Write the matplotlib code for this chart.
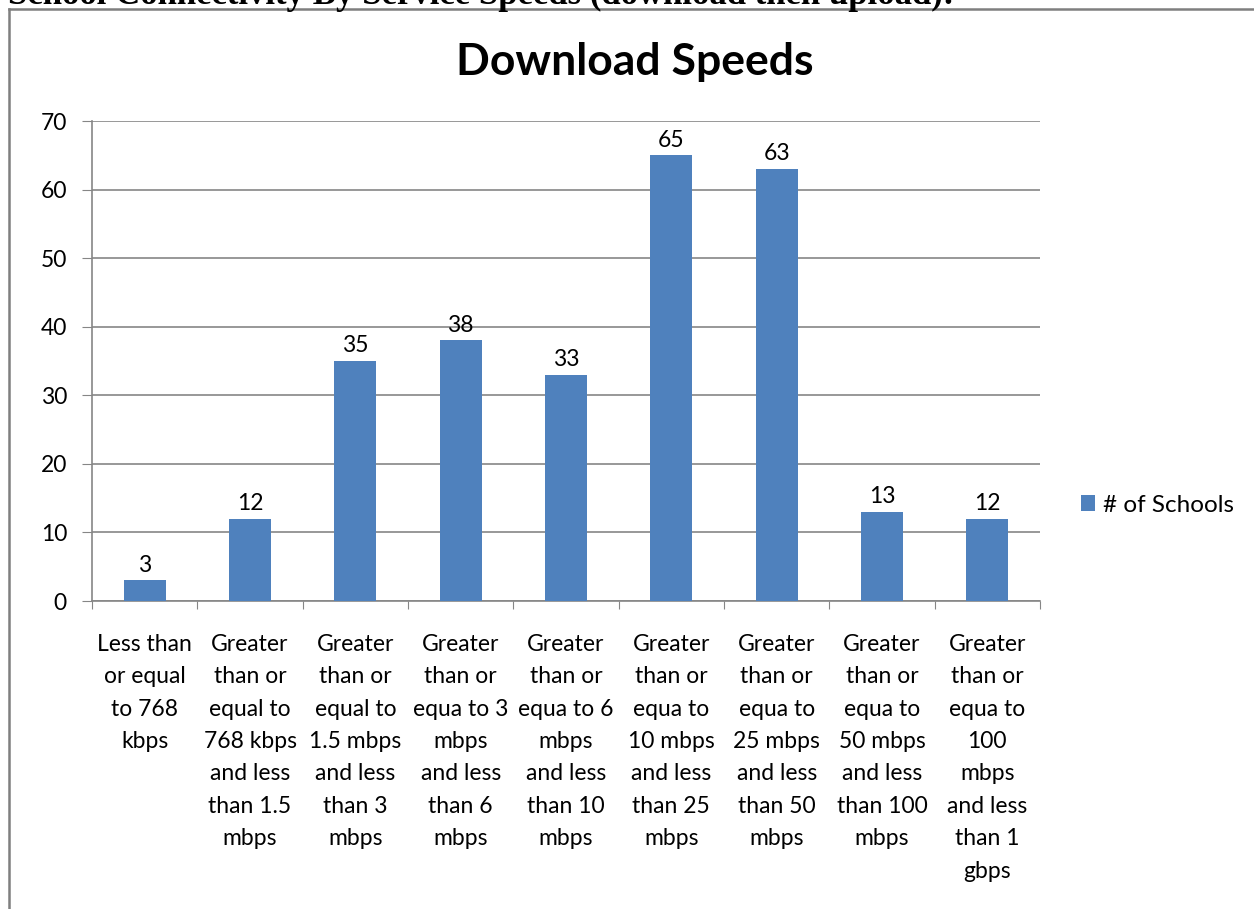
import matplotlib.pyplot as plt
from matplotlib.lines import Line2D

categories = [
    "Less than\nor equal\nto 768\nkbps",
    "Greater\nthan or\nequal to\n768 kbps\nand less\nthan 1.5\nmbps",
    "Greater\nthan or\nequal to\n1.5 mbps\nand less\nthan 3\nmbps",
    "Greater\nthan or\nequa to 3\nmbps\nand less\nthan 6\nmbps",
    "Greater\nthan or\nequa to 6\nmbps\nand less\nthan 10\nmbps",
    "Greater\nthan or\nequa to\n10 mbps\nand less\nthan 25\nmbps",
    "Greater\nthan or\nequa to\n25 mbps\nand less\nthan 50\nmbps",
    "Greater\nthan or\nequa to\n50 mbps\nand less\nthan 100\nmbps",
    "Greater\nthan or\nequa to\n100\nmbps\nand less\nthan 1\ngbps",
]
schools = [3, 12, 35, 38, 33, 65, 63, 13, 12]
yticks = [0, 10, 20, 30, 40, 50, 60, 70]

plt.rcParams['font.family'] = ['Lato', 'DejaVu Sans']
bar_color = '#4F81BD'
grid_color = '#868686'

W, H = 1254, 909
fig = plt.figure(figsize=(W / 100, H / 100), dpi=100)
ax = fig.add_axes([92 / W, 1 - 601 / H, (1040 - 92) / W, (601 - 121) / H])

x = list(range(len(schools)))
ax.bar(x, schools, width=0.4, color=bar_color, label='# of Schools', zorder=3)
for xi, v in zip(x, schools):
    ax.text(xi, v + 2.2, str(v), ha='center', va='center', fontsize=16.5)

ax.set_xlim(-0.5, len(schools) - 0.5)
ax.set_ylim(0, 70)
ax.set_yticks(yticks)
ax.tick_params(axis='y', labelsize=16.5, length=7, color=grid_color, pad=11)
ax.yaxis.grid(True, color=grid_color, linewidth=1.2, zorder=0)

# ticks at category boundaries, labels centred underneath
ax.set_xticks([i - 0.5 for i in range(len(schools) + 1)])
ax.set_xticklabels([])
ax.tick_params(axis='x', length=6, color=grid_color)
for xi, lab in zip(x, categories):
    ax.text(xi, -4.75, lab, ha='center', va='top', fontsize=16.5, linespacing=1.675)

for s in ['top', 'right']:
    ax.spines[s].set_visible(False)
for s in ['left', 'bottom']:
    ax.spines[s].set_color(grid_color)
    ax.spines[s].set_linewidth(1.2)

fig.text(635 / W, 1 - 62 / H, 'Download Speeds', ha='center', va='center',
         fontsize=32, fontweight='bold')

ax.legend(loc='center left', bbox_to_anchor=(1.02, 0.2), frameon=False,
          fontsize=17.5, handlelength=0.6, handleheight=0.6, handletextpad=0.3)

# outer frame of the embedded chart
fig.add_artist(Line2D([9 / W, 9 / W], [0, 1 - 9 / H], color='#7f7f7f', linewidth=1.8))
fig.add_artist(Line2D([9 / W, 1], [1 - 9 / H, 1 - 9 / H], color='#7f7f7f', linewidth=1.8))

# document heading, cut off at the top
fig.text(8 / W, 1 - 4 / H, 'School Connectivity By Service Speeds (download then upload):',
         ha='left', va='baseline', fontsize=25, fontweight='bold',
         family=['Liberation Serif'])

fig.savefig('out.png', dpi=100)
